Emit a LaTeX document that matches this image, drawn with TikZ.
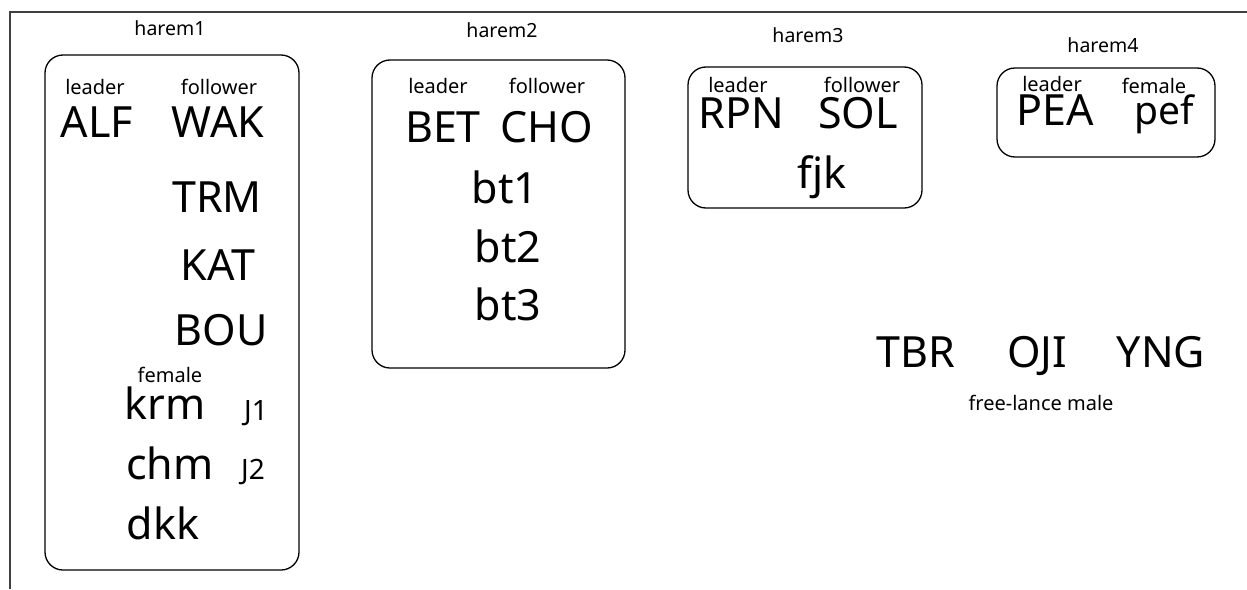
\documentclass[tikz,border=0pt]{standalone}
\usepackage{fontspec}
\setmainfont{Noto Sans}
\begin{document}
\begin{tikzpicture}[x=1pt,y=-1pt,
  lbl/.style={inner sep=0pt,anchor=base,font=\fontsize{20}{20}\selectfont},
  hlbl/.style={inner sep=0pt,anchor=base,font=\fontsize{19.5}{20}\selectfont},
  big/.style={inner sep=0pt,anchor=base,font=\fontsize{43}{43}\selectfont},
  bigs/.style={inner sep=0pt,anchor=base,font=\fontsize{39}{39}\selectfont},
  mid/.style={inner sep=0pt,anchor=base,font=\fontsize{28}{28}\selectfont},
  grp/.style={draw,line width=1.3pt,rounded corners=18pt,inner sep=0pt},
  frameline/.style={draw=black!75,line width=1.2pt}]
\useasboundingbox (0,0) rectangle (1247,589);
% frame
\coordinate (fl) at (10,589);
\coordinate (fc) at (10,12);
\coordinate (fr) at (1247,12);
\draw[frameline] (fl) -- (fc) -- (fr);
% boxes
\node[grp,minimum width=254pt,minimum height=515pt] (box1) at (172,312.5) {};
\node[grp,minimum width=253pt,minimum height=308pt] (box2) at (498.5,214) {};
\node[grp,minimum width=234pt,minimum height=141pt] (box3) at (805,137.5) {};
\node[grp,minimum width=218pt,minimum height=89pt] (box4) at (1106,112.5) {};
% harem1
\node[hlbl] (h1) at (170,35) {harem1};
\node[lbl] (h1l) at (95,94) {leader};
\node[lbl] (h1f) at (219,94) {follower};
\node[big] (alf) at (97,137) {ALF};
\node[big] (wak) at (218,137) {WAK};
\node[big] (trm) at (217,212) {TRM};
\node[big] (kat) at (218,280) {KAT};
\node[big] (bou) at (221,345) {BOU};
\node[lbl] (h1fe) at (170,382) {female};
\node[big] (krm) at (165,419) {krm};
\node[mid] (j1) at (256,420) {J1};
\node[big] (chm) at (170,479) {chm};
\node[mid] (j2) at (253,479) {J2};
\node[big] (dkk) at (163,539) {dkk};
% harem2
\node[hlbl] (h2) at (502,37) {harem2};
\node[lbl] (h2l) at (438,93) {leader};
\node[lbl] (h2f) at (547,93) {follower};
\node[big] (bet) at (443,142) {BET};
\node[big] (cho) at (547,142) {CHO};
\node[big] (bt1) at (505,203) {bt1};
\node[big] (bt2) at (508,262) {bt2};
\node[big] (bt3) at (508,320) {bt3};
% harem3
\node[hlbl] (h3) at (808,42) {harem3};
\node[lbl] (h3l) at (738,92) {leader};
\node[lbl] (h3f) at (862,92) {follower};
\node[big] (rpn) at (741,128) {RPN};
\node[big] (sol) at (858,128) {SOL};
\node[big] (fjk) at (822,188) {fjk};
% harem4
\node[hlbl] (h4) at (1103,52) {harem4};
\node[lbl] (h4l) at (1052,91) {leader};
\node[lbl] (h4f) at (1154,93) {female};
\node[big] (pea) at (1055,125) {PEA};
\node[bigs] (pef) at (1164,124) {pef};
% free-lance
\node[big] (tbr) at (916,367) {TBR};
\node[big] (oji) at (1037,367) {OJI};
\node[big] (yng) at (1161,367) {YNG};
\node[lbl] (flm) at (1041,410) {free-lance male};
\end{tikzpicture}
\end{document}
